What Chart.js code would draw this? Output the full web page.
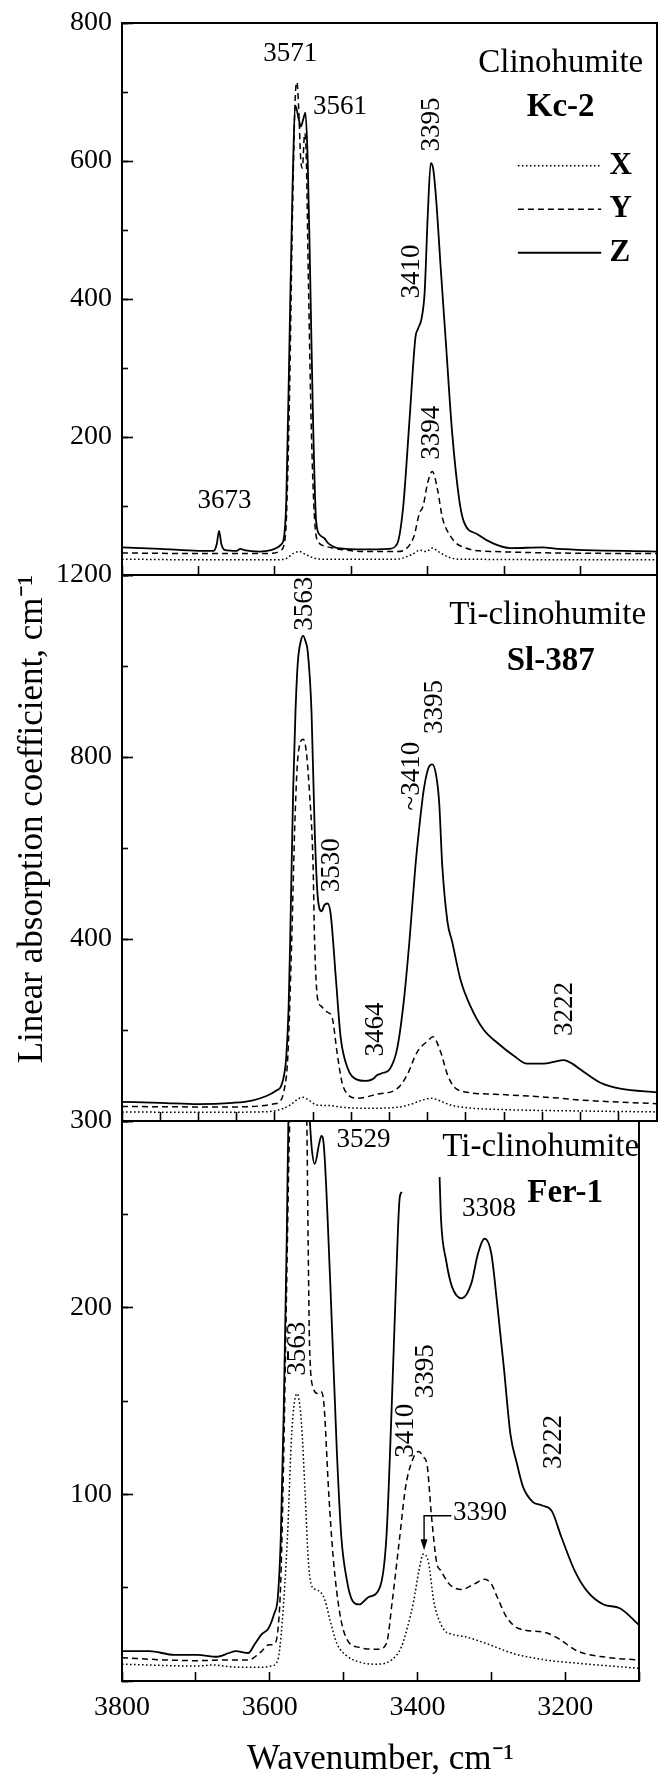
<!DOCTYPE html>
<html><head><meta charset="utf-8">
<script src="https://cdn.jsdelivr.net/npm/chart.js@4.4.1/dist/chart.umd.min.js"></script>
<style>
html,body{margin:0;padding:0;background:#fff;}
#wrap{position:relative;width:658px;height:1775px;overflow:hidden;background:#fff;}
canvas{position:absolute;left:0;}
</style></head><body>
<div id="wrap">
<canvas id="c1" width="658" height="632" style="top:-17px"></canvas>
<canvas id="c2" width="658" height="626" style="top:535px"></canvas>
<canvas id="c3" width="658" height="694" style="top:1081px"></canvas>
</div>
<script>
// ---------- Panel 1: Clinohumite Kc-2 ----------
const kc2_Z_wn = [3800,3750,3700,3680,3676,3673,3670,3665,3650,3645,3640,3620,3605,3598,3592,3588,3585,3581,3577,3573,3569,3566,3563,3560,3557,3554,3550,3546,3541,3535,3531,3525,3518,3480,3450,3440,3432,3424,3416,3413,3408,3404,3400,3396,3393,3389,3383,3376,3368,3359,3353,3335,3313,3292,3250,3230,3100];
const kc2_Z    = [40,38,35,35,45,64,45,36,35,38,36,34,36,39,44,55,110,330,556,680,662,650,660,670,600,445,222,78,58,53,47,42,39,37,38,45,100,222,345,356,372,410,520,597,590,545,445,333,206,111,78,59,45,39,40,38,34];
const kc2_Y_wn = [3800,3700,3650,3620,3600,3592,3586,3581,3577,3573,3571,3569,3566,3564,3561,3559,3556,3552,3548,3543,3535,3520,3480,3440,3431,3418,3411,3406,3400,3394,3387,3381,3370,3357,3313,3100];
const kc2_Y    = [32,31,31,31,32,36,60,250,520,700,714,680,600,590,640,610,420,200,80,48,42,38,34,34,36,56,89,100,134,150,123,84,56,42,34,31];
const kc2_X_wn = [3800,3700,3600,3585,3575,3568,3560,3550,3540,3440,3420,3410,3402,3394,3385,3373,3360,3100];
const kc2_X    = [23,22,22,24,32,34,30,25,23,23,30,36,34,39,33,26,23,22];

// ---------- Panel 2: Ti-clinohumite Sl-387 ----------
const sl_Z_wn = [3800,3750,3700,3655,3630,3611,3598,3592,3587,3585,3582,3580,3576,3573,3570,3566,3563,3560,3557,3552,3548,3544,3539,3535,3531,3527,3520,3514,3505,3494,3481,3472,3466,3458,3450,3440,3431,3424,3416,3411,3405,3398,3394,3389,3385,3381,3374,3368,3357,3344,3327,3309,3287,3270,3248,3235,3222,3210,3200,3174,3148,3100];
const sl_Z    = [42,40,37,40,45,55,67,76,110,143,250,394,730,900,1007,1055,1066,1055,1032,898,646,495,461,475,478,455,310,185,117,92,88,92,101,106,113,159,268,394,562,646,730,780,784,760,700,562,436,394,310,252,201,172,143,126,126,130,134,125,113,84,71,63];
const sl_Y_wn = [3800,3700,3650,3620,3600,3594,3588,3583,3578,3574,3570,3563,3559,3555,3550,3548,3544,3539,3535,3531,3525,3518,3512,3505,3492,3466,3440,3427,3414,3400,3393,3383,3374,3366,3348,3313,3226,3200,3100];
const sl_Y    = [32,31,31,33,38,42,67,143,394,646,797,839,814,730,562,394,268,252,243,239,227,143,84,59,50,59,71,101,151,176,185,151,101,76,63,59,50,46,38];
const sl_X_wn = [3800,3700,3620,3595,3580,3570,3563,3555,3545,3530,3510,3480,3440,3420,3405,3395,3385,3370,3340,3300,3200,3100];
const sl_X    = [20,19,20,24,35,48,52,45,35,34,30,28,30,38,47,50,45,35,28,25,22,20];

// ---------- Panel 3: Ti-clinohumite Fer-1 ----------
const fer_Z_wn = [3800,3763,3729,3698,3672,3655,3646,3629,3620,3611,3602,3594,3589,3585,3581,3577,3574,3563,3550,3546,3543,3539,3533,3530,3527,3518,3509,3503,3496,3488,3479,3466,3451,3442,3435,3429,3424,3421,3395,3370,3368,3361,3353,3340,3327,3318,3309,3300,3292,3283,3274,3265,3257,3244,3231,3218,3205,3187,3170,3148,3126,3100];
const fer_Z    = [16,16,14,14,13,15,16,15,20,25,28,36,45,77,145,236,320,400,330,302,285,277,288,292,288,213,122,77,55,43,41,45,50,77,145,213,259,262,null,270,247,225,211,205,213,229,237,229,202,168,132,116,104,96,94,91,77,59,48,41,39,30];
const fer_Y_wn = [3800,3743,3698,3655,3629,3611,3602,3594,3589,3585,3581,3577,3574,3570,3563,3556,3550,3548,3546,3541,3535,3531,3527,3520,3514,3505,3496,3479,3453,3442,3434,3424,3416,3405,3398,3392,3387,3381,3374,3368,3357,3340,3323,3309,3300,3292,3279,3262,3227,3209,3183,3140,3100];
const fer_Y    = [12.5,11.3,10.9,11.3,11.3,15.9,19.3,20,27,54,122,213,281,340,380,340,305,236,179,157,154,155,150,100,66,36,22.7,18,17,20,43,77,104,120,123,120,116,88.5,63.5,59,52,49,52,54.5,52,45,34,28,26,22.7,16,12.5,11.3];
const fer_X_wn = [3800,3698,3677,3650,3611,3598,3589,3583,3576,3570,3563,3557,3552,3548,3544,3538,3531,3525,3518,3509,3496,3479,3457,3435,3422,3413,3405,3398,3392,3385,3378,3372,3363,3353,3336,3309,3270,3227,3183,3100];
const fer_X    = [9,8,8.6,7.5,7.3,8,11.3,32,77,134,154,138,100,66,52,49,47.6,43,32,20,13.6,10.2,9,11.3,18,29.5,43,59,68,63.5,43,34,27,25,23.8,20.4,14.7,11.3,9.5,6.8];

// ---------- Axis tick settings ----------
const wnMin = 3100, wnMax = 3800;
const panelMax   = [800, 1200, 300];
const panelMajor = [200, 400, 100];
const panelMinor = [100, 200, 50];
const panelXStep = [100, 50, 100];

// ---------- Peak labels [text, wavenumber, value, rotated] ----------
const kc2Labels = [['3571',3580,755,0],['3673',3666,108,0],['3395',3394,653,1],['3410',3421,440,1],['3394',3394,206,1]];
const kc2LeftLabels = [['3561',3550,679]];
const slLabels = [['3563',3561,1137,1],['3530',3526,562,1],['3464',3468,201,1],['~3410',3421,758,1],['3395',3391,910,1],['3222',3220,246,1]];
const ferLabels = [['3529',3473,290,0],['3308',3303,253,0],['3563',3562,178,1],['3395',3389,166,1],['3410',3415,134,1],['3222',3215,128,1]];
const ferLeftLabels = [['3390',3352,90]];
const seriesNames = ['X','Y','Z'];

const FONT = "'Liberation Serif','Times New Roman',Times,serif";
Chart.defaults.font.family = FONT;
Chart.defaults.color = '#000';

const annotPlugin = {
  id: 'annot',
  afterDatasetsDraw(chart, args, opts) {
    const {ctx, chartArea: a} = chart;
    const xs = chart.scales.x, ys = chart.scales.y;
    ctx.save();
    ctx.strokeStyle = '#000'; ctx.lineWidth = 2;
    ctx.strokeRect(a.left, a.top, a.right - a.left, a.bottom - a.top);
    ctx.fillStyle = '#000';
    ctx.textBaseline = 'middle';
    const put = (t, wn, v, rot, align, font) => {
      ctx.save();
      ctx.font = font;
      ctx.textAlign = align;
      ctx.translate(xs.getPixelForValue(wn), ys.getPixelForValue(v));
      if (rot) ctx.rotate(-Math.PI / 2);
      ctx.fillText(t, 0, 0);
      ctx.restore();
    };
    (opts.labels || []).forEach(l => put(l[0], l[1], l[2], l[3], 'center', '27px ' + FONT));
    (opts.leftLabels || []).forEach(l => put(l[0], l[1], l[2], 0, 'left', '27px ' + FONT));
    (opts.titles || []).forEach(l => put(l[0], l[1], l[2], 0, 'center', (l[3] ? 'bold ' : '') + '33px ' + FONT));
    if (opts.legend) {
      const L = opts.legend;
      chart.data.datasets.forEach((d, i) => {
        const y = ys.getPixelForValue(L.v[i]);
        ctx.save();
        ctx.lineWidth = d.borderWidth; ctx.setLineDash(d.borderDash || []);
        ctx.beginPath();
        ctx.moveTo(xs.getPixelForValue(L.from), y);
        ctx.lineTo(xs.getPixelForValue(L.to), y);
        ctx.stroke();
        ctx.restore();
        put(d.label, L.text, L.v[i], 0, 'left', 'bold 31px ' + FONT);
      });
    }
    if (opts.arrow) {
      const A = opts.arrow;
      const x1 = xs.getPixelForValue(A.from), x2 = xs.getPixelForValue(A.to);
      const y1 = ys.getPixelForValue(A.v), yt = ys.getPixelForValue(A.tip);
      ctx.lineWidth = 1.4;
      ctx.beginPath(); ctx.moveTo(x1, y1); ctx.lineTo(x2, y1); ctx.lineTo(x2, yt - 8); ctx.stroke();
      ctx.beginPath(); ctx.moveTo(x2 - 3.5, yt - 11); ctx.lineTo(x2 + 3.5, yt - 11); ctx.lineTo(x2, yt); ctx.closePath(); ctx.fill();
    }
    ctx.restore();
  }
};
Chart.register(annotPlugin);

function ds(label, wn, vals, dash, width) {
  return {
    label, data: wn.map((w, i) => ({x: w, y: vals[i]})),
    borderColor: '#000', borderWidth: width, borderDash: dash,
    pointRadius: 0, fill: false, cubicInterpolationMode: 'monotone', spanGaps: false
  };
}
const dotDash = [1.6, 2.4], dashDash = [6, 4];

function makeChart(id, p, sets, cfg) {
  return new Chart(document.getElementById(id), {
    type: 'line',
    data: { datasets: [
      ds(seriesNames[0], sets[0][0], sets[0][1], dotDash, 1.5),
      ds(seriesNames[1], sets[1][0], sets[1][1], dashDash, 1.5),
      ds(seriesNames[2], sets[2][0], sets[2][1], [], 1.8)
    ]},
    options: {
      responsive: false, animation: false, devicePixelRatio: 1,
      layout: { padding: { top: cfg.padTop, bottom: cfg.padBottom, left: 0, right: 1 } },
      plugins: { legend: { display: false }, tooltip: { enabled: false }, annot: cfg.annot },
      scales: {
        x: {
          type: 'linear', min: wnMin, max: wnMax, reverse: true, position: 'bottom',
          afterFit(s) { s.height = cfg.xHeight; },
          border: { display: false },
          grid: { drawOnChartArea: false, drawTicks: true, tickLength: -9, tickWidth: 1.6, tickColor: '#000' },
          ticks: { display: cfg.showX, stepSize: panelXStep[p], autoSkip: false, maxRotation: 0, minRotation: 0,
                   padding: 19, font: { size: 28 }, color: '#000',
                   callback: v => (v % 200 === 0 ? String(v) : '') },
          title: { display: cfg.showX, text: 'Wavenumber, cm⁻¹', color: '#000',
                   font: { size: 35, lineHeight: 0.86 }, padding: { top: 0, bottom: 0 } }
        },
        y: {
          type: 'linear', min: 0, max: panelMax[p], position: 'left', weight: 1,
          afterFit(s) { s.width = 122; },
          border: { display: false },
          grid: { drawOnChartArea: false, tickLength: -11, tickWidth: 1.6, tickColor: '#000' },
          ticks: { stepSize: panelMajor[p], padding: 21, font: { size: 28 }, color: '#000',
                   callback: v => (v === 0 ? '' : String(v)) },
          title: { display: !!cfg.yTitle, text: cfg.yTitle || '', color: '#000', align: 'end',
                   font: { size: 35 }, padding: { top: 12, bottom: 0 } }
        },
        yMinor: {
          type: 'linear', min: 0, max: panelMax[p], position: 'left', weight: 0,
          afterFit(s) { s.width = 0; },
          border: { display: false },
          grid: { drawOnChartArea: false, tickLength: -6, tickWidth: 1.6, tickColor: '#000' },
          ticks: { stepSize: panelMinor[p], display: false }
        }
      }
    }
  });
}

makeChart('c1', 0, [[kc2_X_wn, kc2_X], [kc2_Y_wn, kc2_Y], [kc2_Z_wn, kc2_Z]], {
  padTop: 40, padBottom: 40, xHeight: 0, showX: false,
  annot: { labels: kc2Labels, leftLabels: kc2LeftLabels,
           titles: [['Clinohumite', 3226, 741, 0], ['Kc-2', 3226, 678, 1]],
           legend: { from: 3282, to: 3173, text: 3162, v: [593, 530, 467] } }
});
makeChart('c2', 1, [[sl_X_wn, sl_X], [sl_Y_wn, sl_Y], [sl_Z_wn, sl_Z]], {
  padTop: 40, padBottom: 40, xHeight: 0, showX: false,
  yTitle: 'Linear absorption coefficient, cm⁻¹',
  annot: { labels: slLabels,
           titles: [['Ti-clinohumite', 3243, 1111, 0], ['Sl-387', 3239, 1011, 1]] }
});
makeChart('c3', 2, [[fer_X_wn, fer_X], [fer_Y_wn, fer_Y], [fer_Z_wn, fer_Z]], {
  padTop: 40, padBottom: 0, xHeight: 94, showX: true,
  annot: { labels: ferLabels, leftLabels: ferLeftLabels,
           titles: [['Ti-clinohumite', 3233, 286, 0], ['Fer-1', 3200, 261, 1]],
           arrow: { from: 3354, to: 3391, v: 88.5, tip: 70 } }
});
</script>
</body></html>
